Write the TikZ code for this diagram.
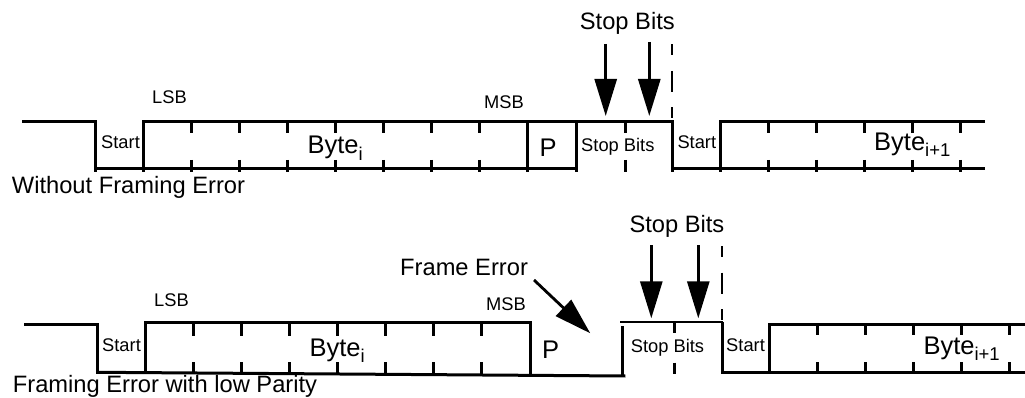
\documentclass[tikz,border=0pt]{standalone}
\usepackage{fontspec}
\setmainfont{Liberation Sans}
\usetikzlibrary{arrows.meta}
\newcommand{\bytesub}[1]{Byte\raisebox{-0.24em}{\fontsize{18.5}{18.5}\selectfont #1}}
\begin{document}
\begin{tikzpicture}[x=1pt,y=-1pt,
  point/.style={coordinate},
  label/.style={anchor=base west, inner sep=0pt, text=black, font=\fontsize{18.3}{20}\selectfont},
  title/.style={label, font=\fontsize{23.7}{26}\selectfont},
  bytename/.style={label, font=\fontsize{25.5}{28}\selectfont},
  wave/.style={draw=black, line width=3pt},
  bitmark/.style={draw=black, line width=2.7pt},
  guide/.style={draw=black, line width=2pt, dash pattern=on 11pt off 15.5pt on 21pt off 15.5pt},
  pointer/.style={draw=black, line width=2.8pt, -{Triangle[length=37pt,width=22pt]}}]
\useasboundingbox (0,0) rectangle (1025,398);

% upper waveform
\draw[wave] (22,121.5) -- (95.7,121.5) -- (95.7,172);
\draw[wave] (95.7,169) -- (576,169);
\draw[wave] (143.3,172) -- (143.3,121.5) -- (672.7,121.5) -- (672.7,172);
\draw[wave] (527.3,121.5) -- (527.3,172);
\draw[wave] (576,121.5) -- (576,172);
\draw[wave] (672.7,169) -- (985,169);
\draw[wave] (720.3,172) -- (720.3,121.5) -- (985,121.5);
\draw[bitmark] (191.5,121.5) -- (191.5,133) (191.5,160) -- (191.5,172)
  (239.5,121.5) -- (239.5,133) (239.5,160) -- (239.5,172)
  (287.5,121.5) -- (287.5,133) (287.5,160) -- (287.5,172)
  (335.5,121.5) -- (335.5,133) (335.5,160) -- (335.5,172)
  (383.5,121.5) -- (383.5,133) (383.5,160) -- (383.5,172)
  (431.5,121.5) -- (431.5,133) (431.5,160) -- (431.5,172)
  (479.5,121.5) -- (479.5,133) (479.5,160) -- (479.5,172)
  (625.3,121.5) -- (625.3,133) (625.3,160) -- (625.3,172)
  (768.3,121.5) -- (768.3,133) (768.3,160) -- (768.3,172)
  (816.3,121.5) -- (816.3,133) (816.3,160) -- (816.3,172)
  (864.3,121.5) -- (864.3,133) (864.3,160) -- (864.3,172)
  (912.3,121.5) -- (912.3,133) (912.3,160) -- (912.3,172)
  (960.3,121.5) -- (960.3,133) (960.3,160) -- (960.3,172);

% lower waveform
\draw[wave] (24,324.3) -- (97.7,324.3) -- (97.7,372.3) -- (145.3,372.3);
\draw[wave] (97.7,372.3) -- (625.3,376);
\draw[wave] (145.3,373) -- (145.3,322.5) -- (530,322.5) -- (530,376);
\draw[wave] (622.5,376.5) -- (622.5,326);
\draw[wave, line width=2pt] (620.3,322) -- (723,322);
\draw[wave] (722,322) -- (722,372.3) -- (1025,372.3);
\draw[wave] (769.7,373) -- (769.7,324.3) -- (1025,324.3);
\draw[bitmark] (193.5,322.5) -- (193.5,335.7) (193.5,362.3) -- (193.5,373)
  (241.5,322.5) -- (241.5,335.7) (241.5,362.3) -- (241.5,373)
  (289.5,322.5) -- (289.5,335.7) (289.5,362.3) -- (289.5,373)
  (337.5,322.5) -- (337.5,335.7) (337.5,362.3) -- (337.5,374)
  (385.5,322.5) -- (385.5,335.7) (385.5,362.3) -- (385.5,374)
  (433.5,322.5) -- (433.5,335.7) (433.5,362.3) -- (433.5,374)
  (481.5,322.5) -- (481.5,335.7) (481.5,362.3) -- (481.5,375)
  (674.3,322) -- (674.3,333) (674.3,362.7) -- (674.3,373.6)
  (817.3,324.3) -- (817.3,335) (817.3,362.3) -- (817.3,373)
  (865.3,324.3) -- (865.3,335) (865.3,362.3) -- (865.3,373)
  (913.3,324.3) -- (913.3,335) (913.3,362.3) -- (913.3,373)
  (961.3,324.3) -- (961.3,335) (961.3,362.3) -- (961.3,373)
  (1009.3,324.3) -- (1009.3,335) (1009.3,362.3) -- (1009.3,373);

% dashed guides
\node[point] (guidea) at (671.7,44.3) {};
\node[point] (guideb) at (671.7,117.7) {};
\node[point] (guidec) at (721.7,246) {};
\node[point] (guided) at (721.7,320) {};
\draw[guide] (guidea) -- (guideb);
\draw[guide] (guidec) -- (guided);

% arrows
\node[point] (stopa) at (605.7,44) {};
\node[point] (stopb) at (605.7,116) {};
\node[point] (stopc) at (649.3,42) {};
\node[point] (stopd) at (649.3,116) {};
\node[point] (stope) at (651.3,245) {};
\node[point] (stopf) at (651.3,318.3) {};
\node[point] (stopg) at (698.3,245) {};
\node[point] (stoph) at (698.3,318.3) {};
\node[point] (erra) at (534,280) {};
\node[point] (errb) at (590.3,333.3) {};
\draw[pointer] (stopa) -- (stopb);
\draw[pointer] (stopc) -- (stopd);
\draw[pointer] (stope) -- (stopf);
\draw[pointer] (stopg) -- (stoph);
\draw[pointer] (erra) -- (errb);

% upper labels
\node[title] (stoptop) at (579.7,30) {Stop Bits};
\node[label] (lsbtop) at (152,103.3) {LSB};
\node[label] (msbtop) at (484,108.7) {MSB};
\node[label] (starta) at (101,149) {Start};
\node[label] (startb) at (677.3,149) {Start};
\node[label] (stopbitsa) at (581,151.7) {Stop Bits};
\node[bytename] (bytea) at (307.3,154) {\bytesub{i}};
\node[bytename] (byteb) at (874,150.7) {\bytesub{i+1}};
\node[bytename] (paritya) at (539.3,156.7) {P};
\node[title] (noerror) at (11.7,194) {Without Framing Error};

% lower labels
\node[title] (stopbot) at (629.3,232.7) {Stop Bits};
\node[title] (frameerr) at (400,275) {Frame Error};
\node[label] (lsbbot) at (154,306) {LSB};
\node[label] (msbbot) at (486,310.7) {MSB};
\node[label] (startc) at (102,351.7) {Start};
\node[label] (startd) at (726,351.7) {Start};
\node[label] (stopbitsb) at (630.7,352) {Stop Bits};
\node[bytename] (bytec) at (309.3,356) {\bytesub{i}};
\node[bytename] (byted) at (923.3,354) {\bytesub{i+1}};
\node[bytename] (parityb) at (542,358.7) {P};
\node[title] (lowparity) at (12.7,392.7) {Framing Error with low Parity};
\end{tikzpicture}
\end{document}
